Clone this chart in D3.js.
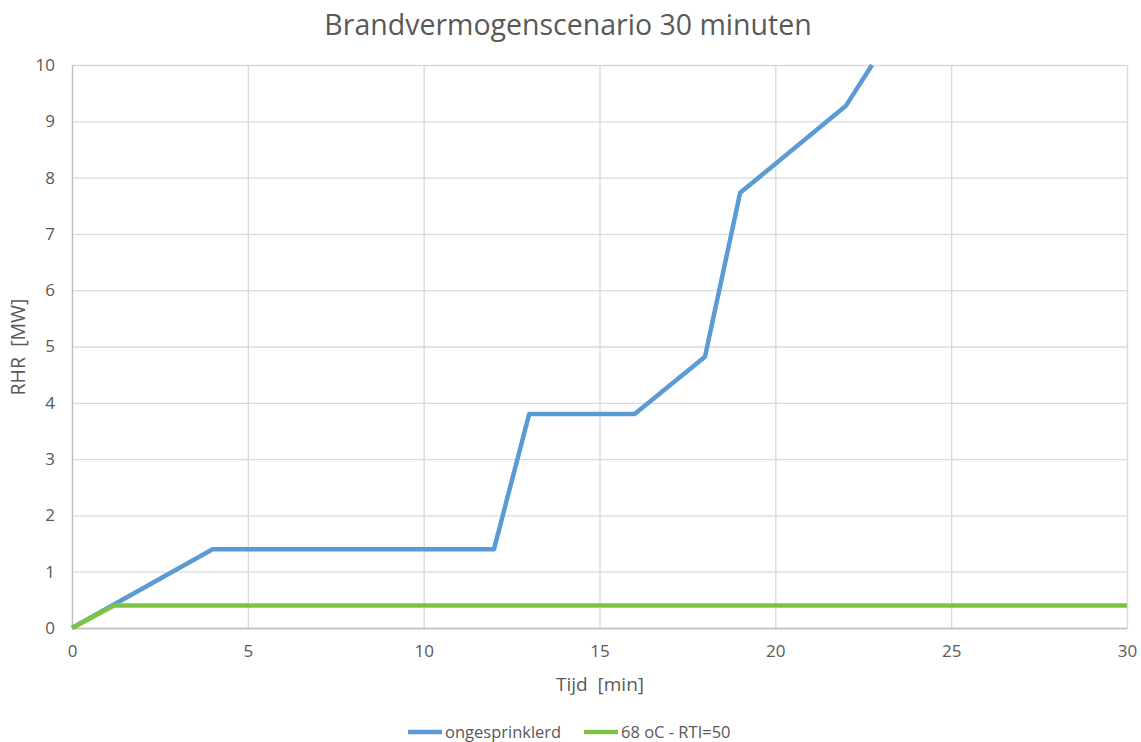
<!DOCTYPE html>
<html lang="nl">
    <head>
        <meta http-equiv="Content-Type" content="text/html; charset=UTF-8">
        <title>Brandvermogenscenario 30 minuten</title>
        <script src="https://cdn.jsdelivr.net/npm/d3@7"></script>
        <style type="text/css">
            body {margin: 0; background: #fff; overflow: hidden;}
            svg {font-family: "Open Sans", "Liberation Sans", sans-serif;}
        </style>
    </head>
    <body>
        <svg width="1141" height="742"></svg>
        <script>
            // data
            var seriesNames = ['ongesprinklerd', '68 oC - RTI=50'];
            var seriesColors = ['#5b9bd5', '#7dc342'];
            var ongesprinklerdX = [0, 4, 12, 13, 16, 18, 19, 22, 22.75];
            var ongesprinklerdY = [0, 1.4, 1.4, 3.8, 3.8, 4.82, 7.73, 9.27, 10];
            var sprinklerX = [0, 1.2, 30];
            var sprinklerY = [0, 0.4, 0.4];
            var xTicks = [0, 5, 10, 15, 20, 25, 30];
            var yTicks = [0, 1, 2, 3, 4, 5, 6, 7, 8, 9, 10];

            var svg = d3.select('svg');
            var plotLeft = 72, plotRight = 1127, plotTop = 65, plotBottom = 628;

            var x = d3.scaleLinear().domain([0, 30]).range([plotLeft, plotRight]);
            var y = d3.scaleLinear().domain([0, 10]).range([plotBottom, plotTop]);

            svg.append('text')
                .attr('x', 568).attr('y', 35)
                .attr('text-anchor', 'middle')
                .attr('font-size', 28.5).attr('fill', '#595959')
                .text('Brandvermogenscenario 30 minuten');

            // gridlines
            svg.append('g')
                .attr('transform', 'translate(0,' + plotBottom + ')')
                .call(d3.axisBottom(x).tickValues(xTicks).tickSize(-(plotBottom - plotTop)).tickFormat(''))
                .call(function(g) { g.select('.domain').remove(); })
                .selectAll('line').attr('stroke', '#d9d9d9').attr('stroke-width', 1.3);
            svg.append('g')
                .attr('transform', 'translate(' + plotLeft + ',0)')
                .call(d3.axisLeft(y).tickValues(yTicks).tickSize(-(plotRight - plotLeft)).tickFormat(''))
                .call(function(g) { g.select('.domain').remove(); })
                .selectAll('line').attr('stroke', '#d9d9d9').attr('stroke-width', 1.3);

            // tick labels
            var xAxis = svg.append('g')
                .attr('transform', 'translate(0,' + plotBottom + ')')
                .call(d3.axisBottom(x).tickValues(xTicks).tickSize(0).tickPadding(17));
            var yAxis = svg.append('g')
                .attr('transform', 'translate(' + plotLeft + ',0)')
                .call(d3.axisLeft(y).tickValues(yTicks).tickSize(0).tickPadding(17));
            [xAxis, yAxis].forEach(function(a) {
                a.select('.domain').attr('stroke', '#bfbfbf').attr('stroke-width', 1.3);
                a.selectAll('text').attr('font-size', 17).attr('fill', '#595959')
                    .attr('font-family', '"Open Sans", sans-serif');
            });

            svg.append('text')
                .attr('x', 600).attr('y', 691)
                .attr('text-anchor', 'middle')
                .attr('font-size', 19).attr('fill', '#595959')
                .attr('xml:space', 'preserve')
                .text('Tijd  [min]');
            svg.append('text')
                .attr('transform', 'translate(25,347) rotate(-90)')
                .attr('text-anchor', 'middle')
                .attr('font-size', 19.5).attr('fill', '#595959')
                .attr('xml:space', 'preserve')
                .text('RHR  [MW]');

            var line = d3.line().x(function(d) { return x(d[0]); }).y(function(d) { return y(d[1]); });
            var series = [
                d3.zip(ongesprinklerdX, ongesprinklerdY),
                d3.zip(sprinklerX, sprinklerY)
            ];
            svg.selectAll('path.series')
                .data(series)
                .enter()
                .append('path')
                .attr('class', 'series')
                .attr('d', line)
                .attr('fill', 'none')
                .attr('stroke', function(d, i) { return seriesColors[i]; })
                .attr('stroke-width', 4.5)
                .attr('stroke-linejoin', 'round');

            // legend
            var legendX = [408, 584];
            var legend = svg.selectAll('g.legend')
                .data(seriesNames)
                .enter()
                .append('g')
                .attr('class', 'legend')
                .attr('transform', function(d, i) { return 'translate(' + legendX[i] + ',732)'; });
            legend.append('line')
                .attr('x1', 0).attr('x2', 34)
                .attr('stroke', function(d, i) { return seriesColors[i]; })
                .attr('stroke-width', 4.5);
            legend.append('text')
                .attr('x', 37).attr('dy', '0.35em')
                .attr('font-size', 16.5).attr('fill', '#595959')
                .text(function(d) { return d; });
        </script>
    </body>
</html>
